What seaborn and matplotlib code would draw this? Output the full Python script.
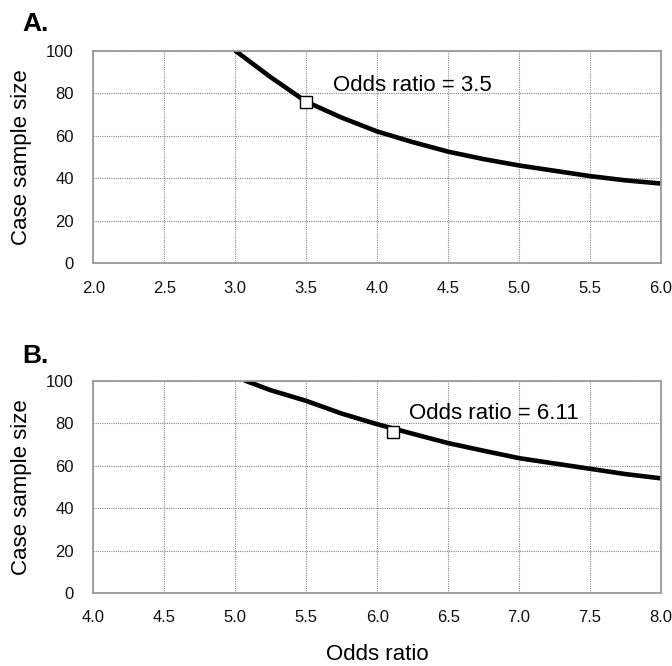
import numpy as np
import pandas as pd
import seaborn as sns
import matplotlib.pyplot as plt

# Panel A: sample size vs odds ratio
or_a = [3.0, 3.25, 3.5, 3.75, 4.0, 4.25, 4.5, 4.75, 5.0, 5.25, 5.5, 5.75, 6.0]
n_a = [100, 87.5, 76, 68.5, 62, 57, 52.5, 49, 46, 43.5, 41, 39, 37.5]
pt_a = (3.5, 76)

# Panel B
or_b = [5.07, 5.25, 5.5, 5.75, 6.0, 6.25, 6.5, 6.75, 7.0, 7.25, 7.5, 7.75, 8.0]
n_b = [100, 95.5, 90.5, 84.5, 79.5, 75, 70.6, 67, 63.5, 61, 58.5, 56, 54]
pt_b = (6.11, 76)

sns.set_style("white")
plt.rcParams['font.family'] = ['Liberation Sans', 'DejaVu Sans']
plt.rcParams['text.color'] = 'black'
plt.rcParams['axes.labelcolor'] = 'black'

fig = plt.figure(figsize=(6.72, 6.66), dpi=100)
ax_a = fig.add_axes([0.1389, 0.6047, 0.8448, 0.3192])
ax_b = fig.add_axes([0.1389, 0.1096, 0.8448, 0.3188])

panels = [
    (ax_a, or_a, n_a, pt_a, (2.0, 6.0), "A.", "Odds ratio = 3.5", (3.69, 81.2), 0.953),
    (ax_b, or_b, n_b, pt_b, (4.0, 8.0), "B.", "Odds ratio = 6.11", (6.222, 82.0), 0.455),
]

for ax, xs, ys, pt, xlim, lab, note, npos, laby in panels:
    df = pd.DataFrame({"odds": xs, "n": ys})
    sns.lineplot(data=df, x="odds", y="n", ax=ax, color="black", lw=3.3)
    ax.plot([pt[0]], [pt[1]], marker="s", ms=9, mfc="white", mec="black",
            mew=1.0, zorder=5)
    ax.set_xlim(*xlim)
    ax.set_ylim(0, 100)
    xt = np.arange(xlim[0], xlim[1] + 0.01, 0.5)
    ax.set_xticks(xt)
    ax.set_xticklabels([f"{v:.1f}" for v in xt])
    ax.set_yticks(range(0, 101, 20))
    ax.grid(True, linestyle=(0, (1, 1)), color="#888888", lw=0.8)
    for s in ax.spines.values():
        s.set_color("#9a9a9a")
        s.set_linewidth(1.3)
    ax.tick_params(axis="both", direction="inout", length=7, color="#9a9a9a",
                   labelsize=12, labelcolor="#111111")
    ax.tick_params(axis="y", pad=10.5)
    ax.tick_params(axis="x", pad=9)
    ax.set_ylabel("Case sample size", fontsize=16)
    ax.yaxis.set_label_coords(-0.108, 0.5)
    ax.set_xlabel("")
    ax.text(npos[0], npos[1], note, fontsize=16, va="baseline", ha="left")
    fig.text(0.033, laby, lab, fontsize=19, fontweight="bold",
             ha="left", va="baseline")

ax_b.set_xlabel("Odds ratio", fontsize=16)
ax_b.xaxis.label.set_verticalalignment("baseline")
ax_b.xaxis.set_label_coords(0.5, -0.3156)

fig.savefig("out.png", dpi=100)
